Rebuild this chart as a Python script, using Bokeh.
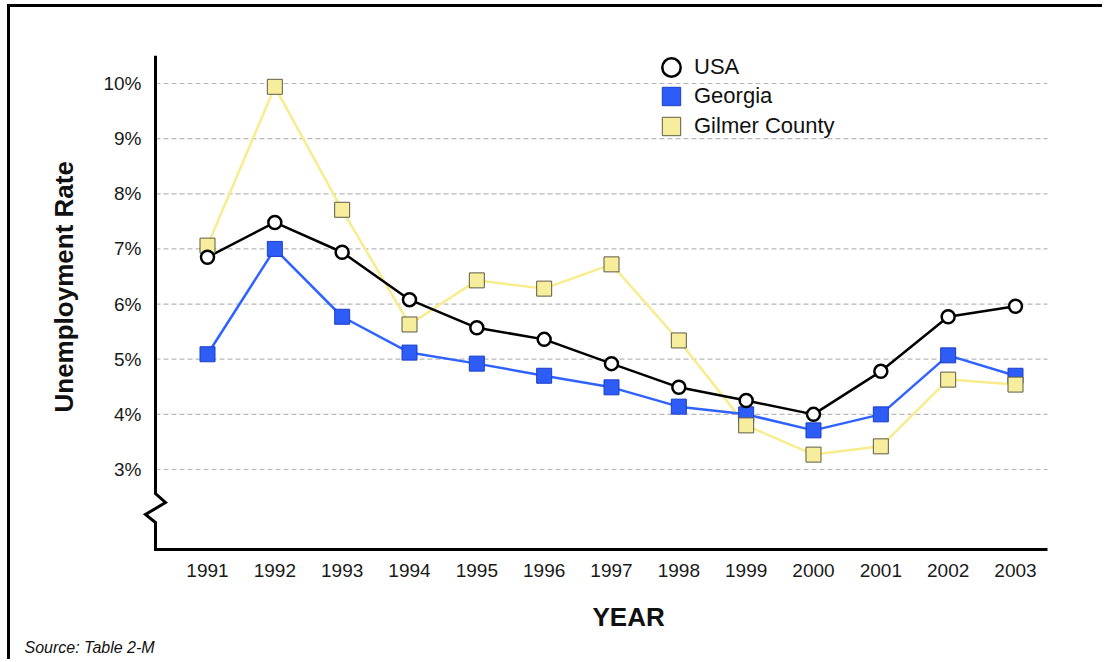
from bokeh.plotting import figure
from bokeh.models import (FixedTicker, PrintfTickFormatter, Legend, LegendItem,
                          Title, Range1d, ColumnDataSource)
from bokeh.embed import file_html
from bokeh.resources import INLINE

years = [1991, 1992, 1993, 1994, 1995, 1996, 1997, 1998, 1999, 2000, 2001, 2002, 2003]
usa = [6.85, 7.48, 6.94, 6.08, 5.57, 5.36, 4.92, 4.49, 4.25, 4.00, 4.78, 5.77, 5.96]
georgia = [5.09, 7.00, 5.77, 5.12, 4.92, 4.70, 4.49, 4.14, 4.00, 3.71, 4.00, 5.07, 4.70]
gilmer = [7.06, 9.94, 7.71, 5.63, 6.43, 6.28, 6.72, 5.34, 3.80, 3.27, 3.42, 4.63, 4.54]
y_ticks = [3, 4, 5, 6, 7, 8, 9, 10]
series_names = ["USA", "Georgia", "Gilmer County"]

FONT = "Liberation Sans"
# scale: pixels per data unit
PX_YEAR = 67.333
PX_PCT = 55.143
X0 = 1991 - 65 / PX_YEAR
X1 = 2003 + 34 / PX_YEAR
Y0 = 3 - 84 / PX_PCT
Y1 = 10 + 28 / PX_PCT
AX = 1991 - 52 / PX_YEAR        # y-axis position
AY = 3 - 80 / PX_PCT            # x-axis position
AX_END = 2003 + 32 / PX_YEAR    # right end of x-axis / grid


def dx(px):
    return AX + px / PX_YEAR


def ylev(px_below_3):
    return 3 - px_below_3 / PX_PCT


src = ColumnDataSource(dict(year=years, usa=usa, georgia=georgia, gilmer=gilmer))

p = figure(width=1095, height=655, output_backend="svg", toolbar_location=None,
           x_range=Range1d(X0, X1), y_range=Range1d(Y0, Y1),
           min_border_left=132, min_border_right=56, min_border_top=48, min_border_bottom=109)
p.styles = {"border-left": "3px solid black", "border-top": "3px solid black",
            "margin-left": "7px", "margin-top": "4px"}
p.outline_line_color = None
p.background_fill_color = "white"
p.border_fill_color = "white"
p.xgrid.visible = False
p.ygrid.visible = False

# axes (lines drawn separately for the axis break)
p.yaxis.ticker = FixedTicker(ticks=y_ticks)
p.yaxis.formatter = PrintfTickFormatter(format="%d%%")
p.yaxis.axis_line_color = None
p.yaxis.major_tick_line_color = None
p.yaxis.minor_tick_line_color = None
p.yaxis.major_label_standoff = -5
p.yaxis.major_label_text_font = FONT
p.yaxis.major_label_text_font_size = "19px"
p.yaxis.major_label_text_color = "#1a1a1a"

p.xaxis.ticker = FixedTicker(ticks=years)
p.xaxis.formatter = PrintfTickFormatter(format="%d")
p.xaxis.axis_line_color = None
p.xaxis.major_tick_line_color = None
p.xaxis.minor_tick_line_color = None
p.xaxis.major_label_standoff = 4
p.xaxis.major_label_text_font = FONT
p.xaxis.major_label_text_font_size = "19px"
p.xaxis.major_label_text_color = "#1a1a1a"

# horizontal dashed grid lines at the y ticks, starting at the axis
p.segment(x0=[AX] * len(y_ticks), y0=y_ticks, x1=[AX_END] * len(y_ticks), y1=y_ticks,
          line_color="#b8b8b8", line_width=1.2, line_dash="5 3")

# series lines
p.line("year", "gilmer", source=src, line_color="#f8ec8c", line_width=2.5)
p.line("year", "georgia", source=src, line_color="#2f62ff", line_width=2.5)
p.line("year", "usa", source=src, line_color="black", line_width=2.5)

r_ga = p.scatter("year", "georgia", source=src, marker="square", size=15,
                 fill_color="#2d5cf6", line_color="#1c3fc8", line_width=1)
r_gc = p.scatter("year", "gilmer", source=src, marker="square", size=15,
                 fill_color="#f6ee9c", line_color="#5e5a45", line_width=1)
r_us = p.scatter("year", "usa", source=src, marker="circle", size=13,
                 fill_color="white", line_color="black", line_width=2.5)

# axis frame with a break in the y-axis
axis_x = [dx(0), dx(0), dx(10), dx(-10), dx(0), dx(0), AX_END]
axis_y = [Y1, ylev(24), ylev(33), ylev(45), ylev(53), AY, AY]
p.line(axis_x, axis_y, line_color="black", line_width=3, line_join="miter")

# legend: one legend per entry so rows can be tightly spaced
leg_rows = [(r_us, 463), (r_ga, 434), (r_gc, 404)]
for name, (rend, vy) in zip(series_names, leg_rows):
    lg = Legend(items=[LegendItem(label=name, renderers=[rend])],
                location=(506, vy), orientation="vertical",
                glyph_width=46, glyph_height=46, padding=0, margin=0, spacing=0,
                label_standoff=0, label_text_font=FONT, label_text_font_size="22px",
                label_text_color="#111111", border_line_color=None,
                background_fill_alpha=0)
    p.add_layout(lg, "center")

p.add_layout(Title(text="Unemployment Rate", align="left", offset=141, text_font=FONT,
                   text_font_size="26px", text_font_style="bold",
                   text_color="#111111", standoff=44), "left")
p.add_layout(Title(text="YEAR", align="left", offset=450, text_font=FONT,
                   text_font_size="26px", text_font_style="bold",
                   text_color="#111111", standoff=41), "below")
p.add_layout(Title(text="Source:  Table 2-M", align="left", offset=-118, text_font=FONT,
                   text_font_size="16px", text_font_style="italic",
                   text_color="#111111", standoff=-28, vertical_align="top"), "below")

open("out.html", "w").write(file_html(p, INLINE))
